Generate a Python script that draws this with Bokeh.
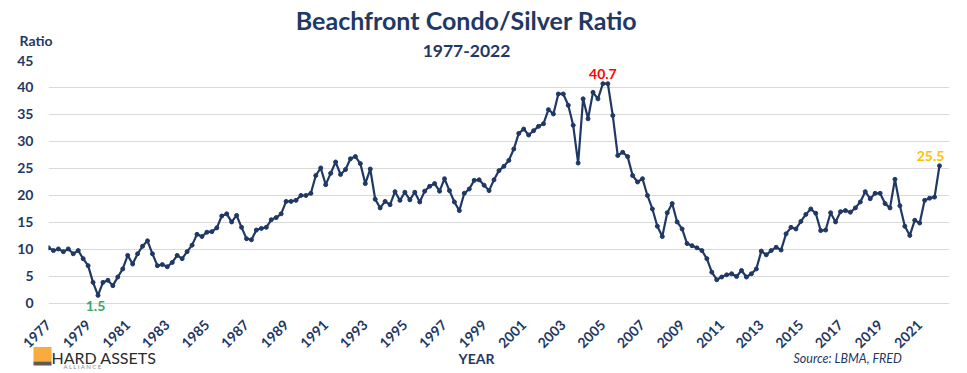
import math
from bokeh.plotting import figure
from bokeh.layouts import column
from bokeh.models import Label, FixedTicker, Range1d, ColumnDataSource
from bokeh.embed import file_html
from bokeh.resources import INLINE

# ---------------- data (quarterly, 1977 Q1 - 2022 Q1) ----------------
start_year = 1977
ratio = [
    10.3, 9.8, 10.1, 9.6, 10.1, 9.2, 9.8, 8.3, 7.0, 3.9,
    1.5, 3.9, 4.3, 3.3, 4.9, 6.4, 8.9, 7.3, 9.2, 10.6,
    11.6, 9.2, 7.0, 7.2, 6.8, 7.6, 8.9, 8.3, 9.6, 10.8,
    12.8, 12.4, 13.2, 13.3, 14.0, 16.2, 16.6, 15.1, 16.3, 14.1,
    12.0, 11.8, 13.6, 13.9, 14.1, 15.5, 15.9, 16.6, 18.9, 18.9,
    19.1, 20.0, 20.0, 20.4, 23.7, 25.1, 22.0, 24.1, 26.2, 23.9,
    24.8, 26.8, 27.2, 25.9, 22.2, 24.9, 19.3, 17.7, 18.9, 18.3,
    20.7, 19.1, 20.6, 19.2, 20.6, 18.8, 20.8, 21.7, 22.2, 20.8,
    23.1, 20.9, 18.8, 17.2, 20.4, 21.2, 22.8, 22.9, 21.9, 20.9,
    22.9, 24.6, 25.4, 26.5, 28.6, 31.5, 32.3, 31.2, 32.0, 32.8,
    33.3, 35.9, 35.1, 38.8, 38.8, 36.7, 33.0, 26.0, 37.9, 34.2,
    39.1, 37.9, 40.7, 40.7, 34.8, 27.4, 28.0, 27.2, 23.7, 22.5,
    23.1, 20.0, 17.5, 14.3, 12.4, 16.8, 18.5, 15.1, 13.8, 11.1,
    10.7, 10.3, 9.8, 8.3, 5.8, 4.4, 4.9, 5.3, 5.5, 5.0,
    6.1, 4.9, 5.5, 6.4, 9.7, 9.0, 9.8, 10.4, 9.9, 12.9,
    14.1, 13.8, 15.2, 16.5, 17.5, 16.7, 13.5, 13.6, 16.8, 15.1,
    17.0, 17.2, 16.9, 17.7, 18.8, 20.7, 19.4, 20.4, 20.4, 18.5,
    17.7, 23.0, 18.1, 14.3, 12.6, 15.4, 14.9, 19.1, 19.5, 19.7,
    25.5,
]
quarter = [start_year + i / 4 for i in range(len(ratio))]

x_tick_years = list(range(1977, 2022, 2))
y_tick_values = list(range(0, 50, 5))

# highlighted points: (index, colour)
low_idx, low_color = 10, "#39a95f"
peak_idx, peak_color = 112, "#ff0000"
last_idx, last_color = len(ratio) - 1, "#ffc000"

title_text = "Beachfront Condo/Silver Ratio"
subtitle_text = "1977-2022"
y_label_text = "Ratio"
x_label_text = "YEAR"
source_text = "Source: LBMA, FRED"
logo_text = "HARD ASSETS"
logo_sub_text = "A    L    L    I    A    N    C    E"

# ---------------- style ----------------
NAVY = "#1f3864"
FONT = "Lato"
W, H = 967, 373

# ---------------- main chart ----------------
p = figure(
    width=W, height=H, title=None,
    output_backend="svg", toolbar_location=None,
    x_range=Range1d(1977, 2022.505), y_range=Range1d(-2.6, 45),
    min_border_left=48, min_border_right=18,
    min_border_top=60, min_border_bottom=56,
    background_fill_color="white", border_fill_color="white",
)
p.outline_line_color = None
p.frame_align = False

src = ColumnDataSource(dict(x=quarter, y=ratio))
p.line("x", "y", source=src, line_color=NAVY, line_width=2.2, line_join="round")
p.scatter("x", "y", source=src, size=4, fill_color=NAVY, line_color=NAVY)

xa = p.xaxis[0]
xa.ticker = FixedTicker(ticks=x_tick_years)
xa.major_label_orientation = math.pi / 4
xa.axis_line_color = None
xa.major_tick_line_color = None
xa.minor_tick_line_color = None
xa.major_tick_out = 0
xa.major_tick_in = 0
xa.major_label_standoff = 5
xa.major_label_text_font = FONT
xa.major_label_text_font_style = "bold"
xa.major_label_text_font_size = "14px"
xa.major_label_text_color = NAVY

ya = p.yaxis[0]
ya.ticker = FixedTicker(ticks=y_tick_values)
ya.axis_line_color = None
ya.major_tick_line_color = None
ya.minor_tick_line_color = None
ya.major_tick_out = 0
ya.major_tick_in = 0
ya.major_label_standoff = 15
ya.major_label_text_font = FONT
ya.major_label_text_font_style = "bold"
ya.major_label_text_font_size = "14px"
ya.major_label_text_color = NAVY

p.xgrid.grid_line_color = None
p.ygrid.ticker = FixedTicker(ticks=y_tick_values)
p.ygrid.grid_line_color = "#d9d9d9"
p.ygrid.grid_line_width = 1

for idx, col, dx, dy in [(low_idx, low_color, -2.5, -11),
                         (peak_idx, peak_color, 0, 10),
                         (last_idx, last_color, -9, 10)]:
    p.add_layout(Label(x=quarter[idx], y=ratio[idx], text=f"{ratio[idx]:.1f}",
                       x_offset=dx, y_offset=dy,
                       text_font=FONT, text_font_size="14px", text_font_style="bold",
                       text_color=col, text_align="center", text_baseline="middle"))

# ---------------- overlay for titles, axis titles, source and logo ----------------
ov = figure(
    width=W, height=H, title=None, output_backend="svg", toolbar_location=None,
    x_range=Range1d(0, W), y_range=Range1d(H, 0),
    x_axis_type=None, y_axis_type=None,
    min_border_left=0, min_border_right=0, min_border_top=0, min_border_bottom=0,
    background_fill_alpha=0, border_fill_alpha=0,
)
ov.outline_line_color = None
ov.grid.visible = False
ov.frame_align = False
ov.margin = (-H, 0, 0, 0)

def tlabel(x, y, text, size, style="bold", color=NAVY, align="left"):
    ov.add_layout(Label(x=x, y=y, text=text, text_font=FONT, text_font_size=size,
                        text_font_style=style, text_color=color,
                        text_align=align, text_baseline="alphabetic"))

tlabel(466, 19, title_text, "25px", align="center")
tlabel(466, 50, subtitle_text, "17.5px", align="center")
tlabel(19, 40, y_label_text, "14px")
tlabel(476, 358, x_label_text, "14px", align="center")
tlabel(793, 358, source_text, "12.5px", style="italic")

# logo
ov.quad(left=[33], right=[51], top=[346.5], bottom=[361], fill_color="#f9ab3c", line_color=None)
ov.quad(left=[33], right=[51], top=[361], bottom=[365], fill_color="#5a5a5a", line_color=None)
tlabel(51, 357, logo_text, "16px", style="normal", color="#2b2b2b")
tlabel(63, 366, logo_sub_text, "6px", style="normal", color="#8a8a8a")

layout = column(p, ov)
open("out.html", "w").write(file_html(layout, INLINE))
